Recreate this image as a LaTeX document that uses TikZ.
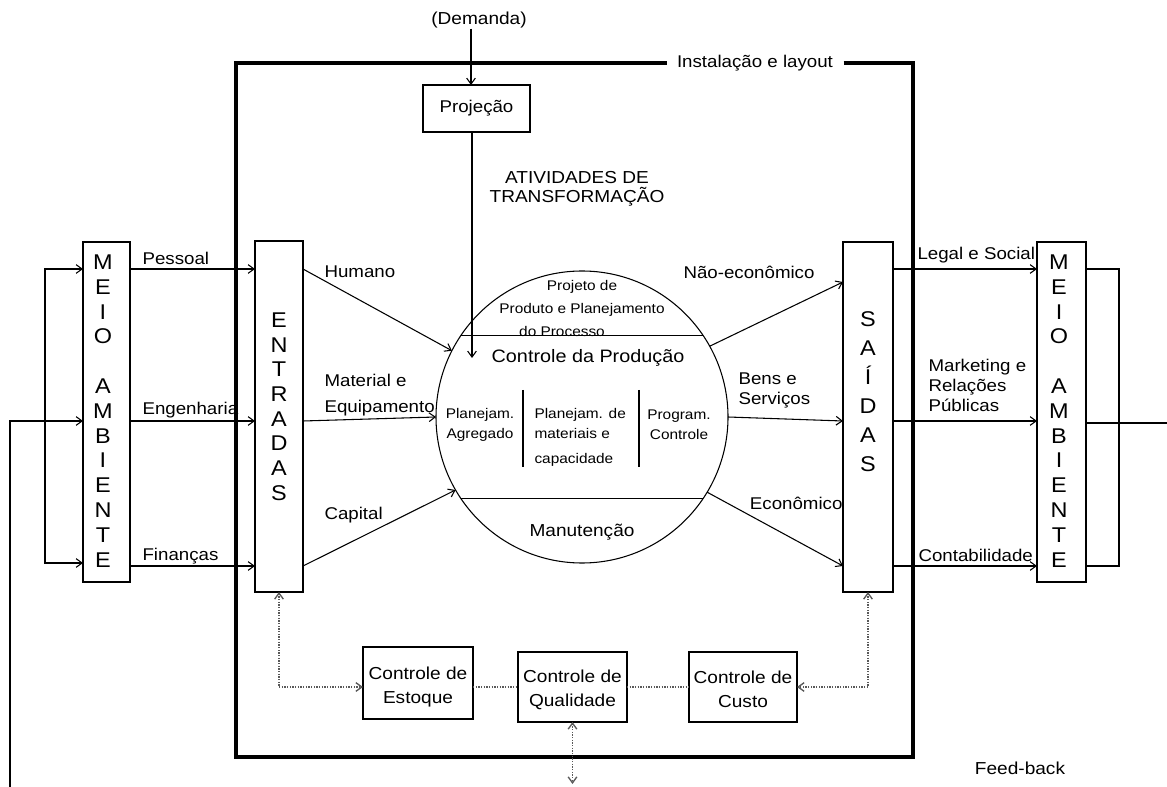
\documentclass[tikz,border=0pt]{standalone}
\usepackage{fontspec}
\setmainfont[FakeStretch=1.1]{Liberation Sans}
\usetikzlibrary{arrows.meta}
\begin{document}
\begin{tikzpicture}[x=0.75pt,y=-0.75pt,
  line width=0.8pt,
  box/.style={draw,rectangle,inner sep=0pt,outer sep=0pt},
  frame/.style={line width=2.5pt},
  arr/.style={-{Straight Barb[length=4.5pt,width=6.5pt]}},
  biarr/.style={{Straight Barb[length=4.5pt,width=6.5pt]}-{Straight Barb[length=4.5pt,width=6.5pt]}},
  dotline/.style={draw=black!65,densely dotted,line width=1pt},
  lab/.style={font=\fontsize{12.75}{15}\selectfont,inner sep=0pt,anchor=west,align=left},
  small/.style={font=\fontsize{10.5}{15}\selectfont,inner sep=0pt,align=center},
  mid/.style={font=\fontsize{13}{18}\selectfont,inner sep=0pt,align=center},
  big/.style={inner sep=0pt,align=center},
]
\useasboundingbox (0,0) rectangle (1167,787);

% reference rows
\coordinate (r1) at (0,269);
\coordinate (r2) at (0,421);
\coordinate (r3) at (0,566);
\coordinate (r3b) at (0,563);
\coordinate (dy) at (0,687);
\coordinate (qb) at (0,784);

% boundary of the operation
\coordinate (fTL) at (236,63);
\coordinate (fBR) at (913,757);
\node[font=\fontsize{12.75}{15}\selectfont,inner xsep=7.5pt,inner ysep=0pt] (inst) at (755,63) {Instalação e layout};
\draw[frame] (inst.east) -| (fBR) -| (fTL) -- (inst.west);

% environment and input/output bars
\node[box,minimum width=35.25pt,minimum height=255pt] (meioL) at (106.5,412) {};
\node[box,minimum width=36pt,minimum height=263.25pt] (ent) at (279,416.5) {};
\node[box,minimum width=37.5pt,minimum height=262.5pt] (sai) at (868,417) {};
\node[box,minimum width=36.75pt,minimum height=255pt] (meioR) at (1061.5,412) {};

\node[big,font=\fontsize{16}{18.6}\selectfont] (meioLt) at (103,411) {M\\E\\I\\O\\[18.6pt]A\\M\\B\\I\\E\\N\\T\\E};
\node[big,font=\fontsize{16}{18.6}\selectfont] (meioRt) at (1059,411) {M\\E\\I\\O\\[18.6pt]A\\M\\B\\I\\E\\N\\T\\E};
\node[big,font=\fontsize{16}{18.5}\selectfont] (entt) at (279,406.5) {E\\N\\T\\R\\A\\D\\A\\S};
\node[big,font=\fontsize{16}{21.75}\selectfont] (sait) at (868,392) {S\\A\\Í\\D\\A\\S};

% demand forecast
\node[mid] (dem) at (479,20) {(Demanda)};
\node[box,minimum width=80.25pt,minimum height=35.25pt,font=\fontsize{12.75}{15}\selectfont] (proj) at (476.5,108.5) {Projeção};
\coordinate (dl) at (471,0);
\draw[arr] (dem.south -| dl) -- (proj.north -| dl);
\coordinate (projtip) at (472,358);
\draw[arr] (proj.south -| projtip) -- (projtip);

\node[mid,font=\fontsize{13}{14}\selectfont] (ativ) at (577,189) {ATIVIDADES DE\\TRANSFORMAÇÃO};

% transformation core
\node[circle,draw,minimum size=219pt,inner sep=0pt,outer sep=0pt] (circ) at (582,417) {};
\draw (circ.146) -- (circ.34);
\draw (circ.214) -- (circ.-34);
\draw (523,390) -- (523,467);
\draw (639,390) -- (639,467);

\node[small,font=\fontsize{10.5}{17.6}\selectfont] (ppp) at (582,308.5) {Projeto de\\Produto e Planejamento\\\hspace*{-30pt}do Processo};
\node[mid,font=\fontsize{13.5}{16}\selectfont] (cprod) at (588,358) {Controle da Produção};
\node[small] (pagr) at (480,425) {Planejam.\\Agregado};
\node[small,align=left,anchor=west] (pmat) at (534,437.5) {Planejam. de\\materiais e\\[3.75pt]capacidade};
\node[small] (pprog) at (679,425) {Program.\\Controle};
\node[mid] (manut) at (582,532) {Manutenção};

% inputs
\draw[arr] (meioL.east |- r1) -- (ent.west |- r1);
\draw[arr] (meioL.east |- r2) -- (ent.west |- r2);
\draw[arr] (meioL.east |- r3) -- (ent.west |- r3);
\node[lab] at (142,258) {Pessoal};
\node[lab] at (142,410) {Engenharia};
\node[lab] at (142,556) {Finanças};

\draw[arr] (ent.east |- r1) -- (circ.153);
\draw[arr] (ent.east |- r2) -- (circ.180);
\draw[arr] (ent.east |- r3) -- (circ.210);
\node[lab] at (324,272) {Humano};
\node[lab,font=\fontsize{12.75}{19.5}\selectfont] at (324,395) {Material e\\Equipamento};
\node[lab] at (324,515) {Capital};

% outputs
\coordinate (o1) at (0,282);
\draw[arr] (circ.29) -- (sai.west |- o1);
\draw[arr] (circ.0) -- (sai.west |- r2);
\draw[arr] (circ.-31) -- (sai.west |- r3);
\node[lab] at (683,272) {Não-econômico};
\node[lab] at (738,390) {Bens e\\Serviços};
\node[lab,anchor=east] at (843,503) {Econômico};

\draw[arr] (sai.east |- r1) -- (meioR.west |- r1);
\draw[arr] (sai.east |- r2) -- (meioR.west |- r2);
\draw[arr] (sai.east |- r3) -- (meioR.west |- r3);
\node[lab] at (917,255) {Legal e Social};
\node[lab] at (928,385) {Marketing e\\Relações\\Públicas};
\node[lab] at (918,555) {Contabilidade};

% feedback loops
\coordinate (lx1) at (45,0);
\coordinate (fbstart) at (10,787);
\draw[biarr] (meioL.west |- r1) -- (lx1 |- r1) -- (lx1 |- r3b) -- (meioL.west |- r3b);
\draw[arr] (fbstart) -- (fbstart |- r2) -- (meioL.west |- r2);
\coordinate (rx) at (1119,0);
\coordinate (rend) at (1167,423);
\draw (meioR.east |- r1) -| (rx |- r3) -- (meioR.east |- r3);
\draw (meioR.east |- rend) -- (rend);
\node[mid] (fb) at (1020,768) {Feed-back};

% control functions
\node[box,minimum width=82.5pt,minimum height=54pt] (est) at (418,683) {};
\node[box,minimum width=81.75pt,minimum height=52.5pt] (qual) at (572.5,687) {};
\node[box,minimum width=81pt,minimum height=52.5pt] (custo) at (743,687) {};
\node[mid] at (418,687) {Controle de\\Estoque};
\node[mid] at (572.5,690) {Controle de\\Qualidade};
\node[mid] at (743,689.5) {Controle de\\Custo};

\draw[dotline,biarr] (ent.south) -- (ent.south |- dy) -- (est.west |- dy);
\draw[dotline] (est.east |- dy) -- (qual.west |- dy);
\draw[dotline] (qual.east |- dy) -- (custo.west |- dy);
\draw[dotline,biarr] (sai.south) -- (sai.south |- dy) -- (custo.east |- dy);
\draw[dotline,biarr] (qual.south) -- (qual.south |- qb);
\end{tikzpicture}
\end{document}
